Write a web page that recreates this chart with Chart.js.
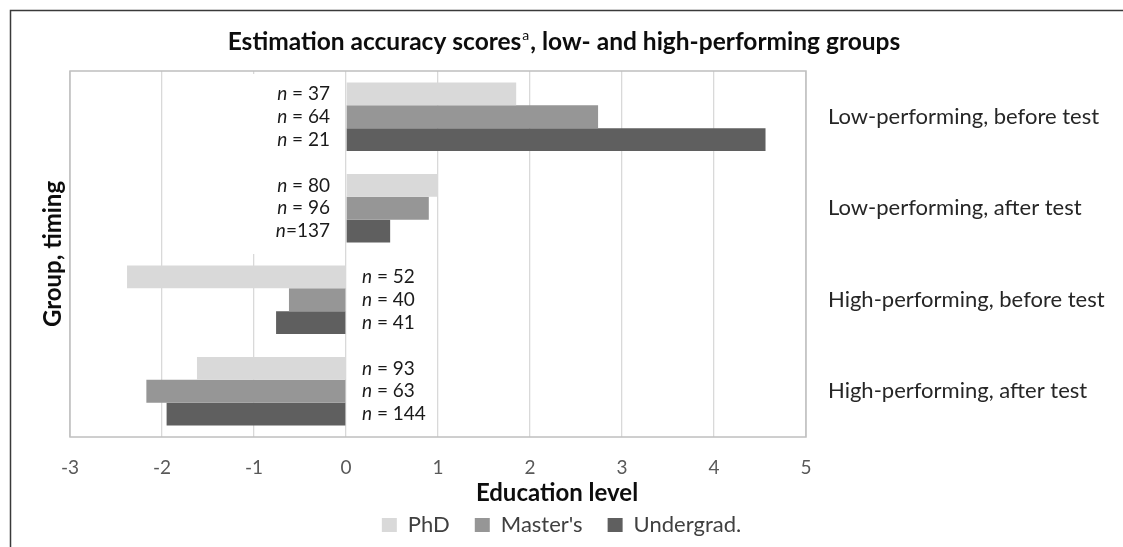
<!DOCTYPE html>
<html>
<head>
<meta charset="utf-8">
<script src="https://cdn.jsdelivr.net/npm/chart.js@4.4.1/dist/chart.umd.min.js"></script>
<style>
  html, body { margin: 0; padding: 0; background: #fff; }
  canvas { display: block; }
</style>
</head>
<body>
<canvas id="c" width="1123" height="547"></canvas>
<script>
// Groups (top to bottom) and the three education levels
const categories = [
  "Low-performing, before test",
  "Low-performing, after test",
  "High-performing, before test",
  "High-performing, after test"
];
const seriesNames = ["PhD", "Master's", "Undergrad."];

// Mean estimation accuracy score per group
const phdScores       = [1.85, 1.00, -2.38, -1.62];
const mastersScores   = [2.74, 0.90, -0.62, -2.17];
const undergradScores = [4.56, 0.48, -0.76, -1.95];

// Sample sizes shown next to each bar
const phdN       = ["n = 37", "n = 80", "n = 52", "n = 93"];
const mastersN   = ["n = 64", "n = 96", "n = 40", "n = 63"];
const undergradN = ["n = 21", "n=137",  "n = 41", "n = 144"];

// Value axis range
const xMin = -3;
const xMax = 5;

// Title pieces (the "a" is a footnote marker)
const titleMain = "Estimation accuracy scores";
const titleSup = "a";
const titleRest = ", low- and high-performing groups";
const xAxisTitle = "Education level";
const yAxisTitle = "Group, timing";

const FAMILY = 'Lato, "Open Sans", sans-serif';
const nLabelsBySeries = [phdN, mastersN, undergradN];

function drawNLabel(ctx, text, x, y, align) {
  const head = text.charAt(0), tail = text.slice(1);
  const it = "italic 19px " + FAMILY, rg = "19px " + FAMILY;
  ctx.font = it; const w1 = ctx.measureText(head).width;
  ctx.font = rg; const w2 = ctx.measureText(tail).width;
  const x0 = align === "right" ? x - w1 - w2 : x;
  ctx.textAlign = "left";
  ctx.textBaseline = "middle";
  ctx.fillStyle = "#1a1a1a";
  ctx.font = it; ctx.fillText(head, x0, y);
  ctx.font = rg; ctx.fillText(tail, x0 + w1, y);
}

const decor = {
  id: "decor",
  beforeDraw(chart) {
    const ctx = chart.ctx;
    ctx.save();
    ctx.fillStyle = "#fff";
    ctx.fillRect(0, 0, chart.width, chart.height);
    ctx.restore();
  },
  beforeDatasetsDraw(chart) {
    // white backing behind the sample-size labels of the upper groups
    const { ctx, scales: { x, y }, chartArea: a } = chart;
    ctx.save();
    ctx.fillStyle = "#fff";
    const left = x.getPixelForValue(-1) - 4;
    const right = x.getPixelForValue(0) - 1;
    const bottom = y.getPixelForValue(1.5);
    ctx.fillRect(left, a.top + 3, right - left, bottom - a.top - 3);
    ctx.restore();
  },
  afterDatasetsDraw(chart) {
    const { ctx, scales: { x } } = chart;
    const zero = x.getPixelForValue(0);
    ctx.save();
    chart.data.datasets.forEach((ds, i) => {
      const meta = chart.getDatasetMeta(i);
      meta.data.forEach((el, j) => {
        const v = ds.data[j];
        const label = nLabelsBySeries[i][j];
        if (v >= 0) drawNLabel(ctx, label, zero - 16, el.y, "right");
        else drawNLabel(ctx, label, zero + 16, el.y, "left");
      });
    });
    ctx.restore();
  },
  afterDraw(chart) {
    const { ctx, chartArea: a } = chart;
    ctx.save();
    // plot frame
    ctx.strokeStyle = "#bfbfbf";
    ctx.lineWidth = 1.5;
    ctx.strokeRect(a.left, a.top, a.right - a.left, a.bottom - a.top);

    // outer chart border (left and top edges)
    ctx.strokeStyle = "#3a3a3a";
    ctx.lineWidth = 1.5;
    ctx.beginPath();
    ctx.moveTo(10.5, chart.height);
    ctx.lineTo(10.5, 10.5);
    ctx.lineTo(chart.width, 10.5);
    ctx.stroke();

    // main title with superscript marker
    const bold = "bold 24.5px " + FAMILY;
    const sup = "14px " + FAMILY;
    ctx.font = bold; const w1 = ctx.measureText(titleMain).width;
    ctx.font = sup;  const w2 = ctx.measureText(titleSup).width + 2;
    ctx.font = bold; const w3 = ctx.measureText(titleRest).width;
    const tx = 564 - (w1 + w2 + w3) / 2;
    const ty = 42;
    ctx.fillStyle = "#0d0d0d";
    ctx.textAlign = "left";
    ctx.textBaseline = "middle";
    ctx.font = bold; ctx.fillText(titleMain, tx, ty);
    ctx.font = sup;  ctx.fillText(titleSup, tx + w1 + 1, ty - 7);
    ctx.font = bold; ctx.fillText(titleRest, tx + w1 + w2, ty);

    // x axis title
    ctx.textAlign = "center";
    ctx.font = "bold 24px " + FAMILY;
    ctx.fillText(xAxisTitle, 557, 493);

    // y axis title, rotated
    ctx.translate(53, (a.top + a.bottom) / 2);
    ctx.rotate(-Math.PI / 2);
    ctx.fillText(yAxisTitle, 0, 0);
    ctx.restore();
  }
};

new Chart(document.getElementById("c"), {
  type: "bar",
  data: {
    labels: categories,
    datasets: [
      { label: seriesNames[0], data: phdScores,       backgroundColor: "#d9d9d9" },
      { label: seriesNames[1], data: mastersScores,   backgroundColor: "#969696" },
      { label: seriesNames[2], data: undergradScores, backgroundColor: "#5f5f5f" }
    ]
  },
  options: {
    indexAxis: "y",
    responsive: false,
    animation: false,
    layout: { padding: { left: 0, right: 0, top: 71, bottom: 1 } },
    datasets: { bar: { categoryPercentage: 0.75, barPercentage: 1.0, borderWidth: 0 } },
    scales: {
      x: {
        type: "linear",
        min: xMin,
        max: xMax,
        ticks: { stepSize: 1, color: "#595959", font: { family: FAMILY, size: 19 }, padding: 19 },
        grid: { color: "#d9d9d9", lineWidth: 1.3, drawTicks: false },
        border: { display: false },
        afterFit(s) {
          const lg = s.chart.legend ? s.chart.legend.height : 0;
          s.height = (547 - 1) - 437 - lg;
        }
      },
      y: {
        type: "category",
        position: "right",
        ticks: { color: "#262626", font: { family: FAMILY, size: 22 }, padding: 22, crossAlign: "near" },
        grid: { display: false, drawTicks: false },
        border: { display: false },
        afterFit(s) { s.width = 317; }
      },
      // empty band on the left that holds the rotated group title
      yTitleBand: {
        type: "category",
        position: "left",
        ticks: { display: false },
        grid: { display: false, drawTicks: false },
        border: { display: false },
        afterFit(s) { s.width = 70; }
      }
    },
    plugins: {
      legend: {
        position: "bottom",
        labels: {
          boxWidth: 15,
          boxHeight: 14,
          padding: 25,
          color: "#404040",
          font: { family: FAMILY, size: 22 }
        }
      },
      title: { display: false },
      tooltip: { enabled: false }
    }
  },
  plugins: [decor]
});
</script>
</body>
</html>
